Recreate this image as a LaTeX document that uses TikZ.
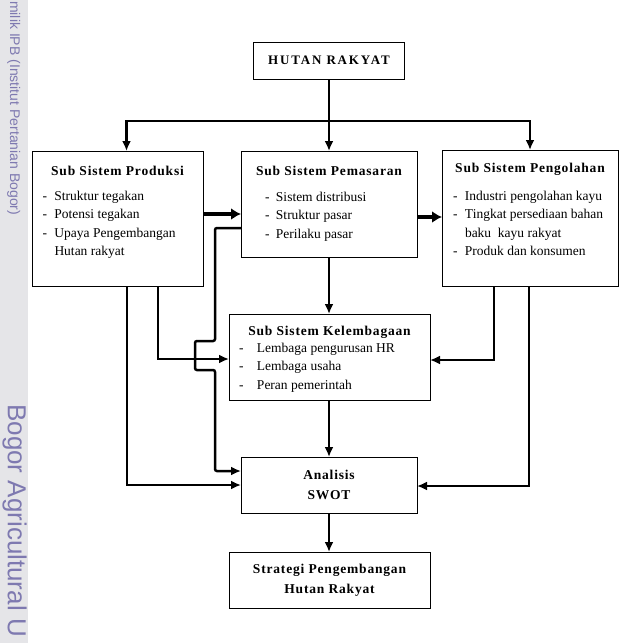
\documentclass[tikz,border=0pt]{standalone}
\usepackage{fontspec}
\setmainfont{Liberation Serif}
\newfontfamily\ttlfont[LetterSpace=6]{Liberation Serif}
\newfontfamily\capfont[LetterSpace=14]{Liberation Serif}
\newfontfamily\wmfont{Liberation Sans}
\usepackage{tikz}
\usetikzlibrary{positioning,arrows.meta}
\definecolor{stripgray}{RGB}{229,229,232}
\definecolor{striptext}{RGB}{126,121,176}
\tikzstyle{signal}=[-{Latex[length=10pt,width=9pt]},draw=black,line width=2.5pt]
\tikzstyle{bigsignal}=[signal,line width=4.5pt,-{Latex[length=10pt,width=12pt]}]
\tikzstyle{block}=[draw=black,line width=1pt,inner sep=0pt,outer sep=0pt]
\tikzstyle{headbox}=[style=block,align=center,
    font=\ttlfont\bfseries\fontsize{13.5}{20}\selectfont]
\def\layerwidth{176pt}
\def\widewidth{201pt}
% box contents: fixed height, text from the top
\newcommand{\boxbody}[3]{\begin{minipage}[c][#1][t]{#2}\fontsize{13.5}{18.5}\selectfont #3\end{minipage}}
\newcommand{\boxtitle}[2]{\vspace*{#1}\makebox[\linewidth]{\rule{0pt}{10pt}{\ttlfont\bfseries #2}}\par}
\newcommand{\boxitem}[3]{\hspace*{#1}\makebox[#2][l]{-}#3\par}

\begin{document}
\begin{tikzpicture}[x=1pt,y=1pt]
    \useasboundingbox (0,0) rectangle (620,-643);
    % watermark strip
    \fill[stripgray] (0,0) rectangle (28,-643);
    \node[rotate=-90,anchor=base west,inner sep=0pt,text=striptext,
        font=\wmfont\fontsize{14}{16}\selectfont] (wmtop) at (10,-1) {milik IPB (Institut Pertanian Bogor)};
    \node[rotate=-90,anchor=base west,inner sep=0pt,text=striptext,
        font=\wmfont\fontsize{26}{28}\selectfont] (wmbottom) at (8,-404) {Bogor Agricultural U};

    \node[block,minimum width=151pt,minimum height=37pt,
        font=\capfont\bfseries\fontsize{13}{15}\selectfont] (hutan) at (329,-60.5) {HUTAN RAKYAT};
    \coordinate[below=42pt of hutan.south] (split);

    \node[block] (produksi) at (117.5,-218.5) {\boxbody{135pt}{171pt}{%
        \boxtitle{14pt}{Sub Sistem Produksi}\vspace{6.5pt}
        \boxitem{10.5pt}{12pt}{Struktur tegakan}
        \boxitem{10.5pt}{12pt}{Potensi tegakan}
        \boxitem{10.5pt}{12pt}{Upaya Pengembangan}
        \hspace*{22.5pt}Hutan rakyat\par}};
    \node[block] (pemasaran) at (329,-204) {\boxbody{106pt}{\layerwidth}{%
        \boxtitle{14pt}{Sub Sistem Pemasaran}\vspace{7.5pt}
        \boxitem{24pt}{11pt}{Sistem distribusi}
        \boxitem{24pt}{11pt}{Struktur pasar}
        \boxitem{24pt}{11pt}{Perilaku pasar}}};
    \node[block] (pengolahan) at (530,-218) {\boxbody{136pt}{\layerwidth}{%
        \boxtitle{12pt}{Sub Sistem Pengolahan}\vspace{9.5pt}
        \boxitem{11pt}{12pt}{Industri pengolahan kayu}
        \boxitem{11pt}{12pt}{Tingkat persediaan bahan}
        \hspace*{23pt}baku\ \ kayu rakyat\par
        \boxitem{11pt}{12pt}{Produk dan konsumen}}};
    \node[block] (kelembagaan) at (329.5,-357) {\boxbody{86pt}{\widewidth}{%
        \boxtitle{11pt}{Sub Sistem Kelembagaan}\vspace{-1.5pt}
        \boxitem{10pt}{18pt}{Lembaga pengurusan HR}
        \boxitem{10pt}{18pt}{Lembaga usaha}
        \boxitem{10pt}{18pt}{Peran pemerintah}}};
    \node[headbox,minimum width=\layerwidth,minimum height=56pt] (swot) at (329,-485) {Analisis\\SWOT};
    \node[headbox,minimum width=\widewidth,minimum height=56pt] (strategi) at (329.5,-580) {Strategi Pengembangan\\Hutan Rakyat};

    % from hutan rakyat
    \draw[signal] (hutan.south) -- (hutan.south |- pemasaran.north);
    \draw[signal] (split) -| ([xshift=9pt]produksi.north);
    \draw[signal] (split) -| (pengolahan.north);
    % between the sub systems
    \draw[bigsignal] ([yshift=-10pt]pemasaran.west -| produksi.east) -- ([yshift=-10pt]pemasaran.west);
    \draw[bigsignal] ([yshift=-13pt]pemasaran.east) -- ([yshift=-13pt]pemasaran.east -| pengolahan.west);
    \draw[signal] (pemasaran.south) -- (pemasaran.south |- kelembagaan.north);
    \draw[signal] ([xshift=40.5pt]produksi.south) |- ([yshift=-2pt]kelembagaan.west);
    \draw[signal] ([xshift=-36pt]pengolahan.south) |- ([yshift=-3pt]kelembagaan.east);
    % into the SWOT analysis
    \draw[signal] ([xshift=9.5pt]produksi.south) |- (swot.west);
    \draw[signal,rounded corners=2pt] ([yshift=-24pt]pemasaran.west) -| ++(-26,-113)
        -- ++(-20,0) -- ++(0,-29) -- ++(20,0) |- ([yshift=14pt]swot.west);
    \draw[signal] ([xshift=-1pt]pengolahan.south) |- ([yshift=-1pt]swot.east);
    \draw[signal] (kelembagaan.south -| swot.north) -- (swot.north);
    \draw[signal] (swot.south) -- (swot.south |- strategi.north);
\end{tikzpicture}
\end{document}
